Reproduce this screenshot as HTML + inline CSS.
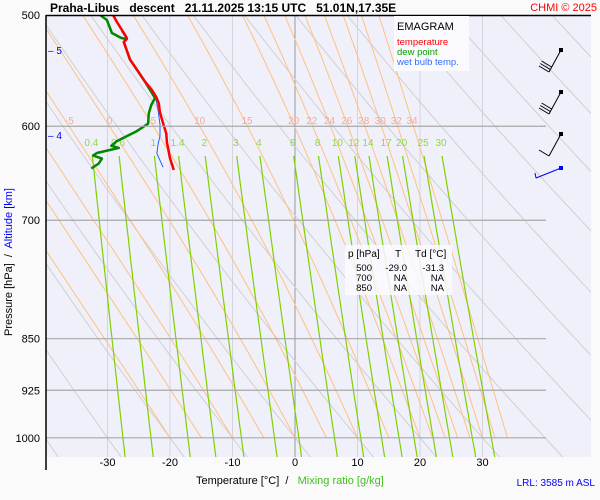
<!DOCTYPE html>
<html><head><meta charset="utf-8"><style>
body{margin:0;background:#fafafa;}
svg{display:block;font-family:"Liberation Sans",sans-serif;}
</style></head><body>
<svg id="c" width="600" height="500"></svg>
<script>
// sounding data (T in °C, p in hPa)
const tempP=[500,505.8,512.4,518.3,520,522.6,537.9,546.8,557.8,565.3,572.0,577.9,586.8,597.0,607.4,616.0,632.3,644.7];
const tempT=[-29.1,-28.5,-27.7,-27.0,-26.9,-27.4,-26.4,-25.3,-24.0,-22.9,-22.2,-21.8,-21.6,-21.1,-20.6,-20.5,-20.0,-19.4];
const dewP=[500,504.1,510.8,515,519.2,520,522.6,537.9,557.8,572.9,579.5,587.4,597.5,604.8,609.8,614.8,619.6,621.7,626.9,629.5,632.7,637.8,643.1];
const dewT=[-31.2,-30.1,-29.6,-29.3,-27.8,-27.0,-27.4,-26.4,-24.0,-22.4,-23.0,-23.4,-23.5,-25.3,-26.9,-28.5,-29.4,-28.2,-31.7,-32.3,-30.9,-31.4,-32.6];
const wbP=[513.2,516.6,519.2,522.6,537.9,557.8,572.0,584.6,598.5,609.8,617.8,627.6,641.7];
const wbT=[-27.8,-27.4,-27.0,-27.4,-26.4,-24.0,-22.3,-21.9,-21.6,-21.6,-21.9,-22.1,-21.1];
const tempTicks=[-30,-20,-10,0,10,20,30];
const pressTicks=[500,600,700,850,925,1000];
const altTicks=[5,4];const altY=[50,135];
const thetaW=[-20,-15,-10,-5,0,5,10,15,20,22,24,26,28,30,32,34];
const thetaWLabels=[-5,0,5,10,15,20,22,24,26,28,30,32,34];
const mixRatios=[0.4,0.6,1,1.4,2,3,4,6,8,10,12,14,17,20,25,30];
const dryTheta=[-40,-30,-20,-10,0,10,20,30,40,50,60,70,80,90,100,110,120];

const NS="http://www.w3.org/2000/svg";
const svg=document.getElementById('c');
const X=t=>295+6.25*t, Y=p=>15+610*Math.log(p/500);
function el(tag,attrs,parent){const e=document.createElementNS(NS,tag);for(const k in attrs)e.setAttribute(k,attrs[k]);(parent||svg).appendChild(e);return e;}
function txt(s,x,y,fill,size,anchor,parent){const e=el('text',{x:x,y:y,fill:fill,'font-size':size,'text-anchor':anchor||'middle'},parent);e.textContent=s;return e;}

el('rect',{x:46,y:15,width:545,height:442,fill:'#f0f0fb'});
const defs=el('defs',{});const cp=el('clipPath',{id:'clip'},defs);el('rect',{x:46,y:15,width:545,height:442},cp);
const g=el('g',{'clip-path':'url(#clip)'});


tempTicks.forEach(t=>{const l=el('line',{x1:X(t),x2:X(t),y1:15,y2:457,stroke:t===0?'#999':'#d4d4dc','stroke-width':1},g);
});
dryTheta.forEach(th=>{let pts=[];for(let p=500;p<=1040;p+=10){const T=(th+273.15)*Math.pow(p/1000,0.286)-273.15;pts.push(X(T).toFixed(1)+','+Y(p).toFixed(1));}
const l=el('polyline',{points:pts.join(' '),fill:'none',stroke:'#d0d0d0','stroke-width':1},g);
});
function moist(tw){let T=tw+273.15,res=[[1000,T]];for(let p=1000;p>500;p-=1){const es=6.112*Math.exp(17.67*(T-273.15)/(T-29.65));const rs=0.622*es/(p-es);
const Lv=2.5e6,Rd=287,cp=1005;const dTdp=(1/p)*(Rd*T+Lv*rs)/(cp+Lv*Lv*rs*0.622/(Rd*T*T));T-=dTdp;res.push([p-1,T]);}return res;}
thetaW.forEach(tw=>{const m=moist(tw);const pts=m.map(a=>X(a[1]-273.15).toFixed(1)+','+Y(a[0]).toFixed(1));
const l=el('polyline',{points:pts.join(' '),fill:'none',stroke:'#ffc080','stroke-width':1},g);

if(thetaWLabels.includes(tw)){const a=m.find(q=>q[0]===605);const t=txt(String(tw),X(a[1]-273.15)-3,124,'#f8a898',10,'middle',g);
}});
function tFromW(w,p){const e=w*p/(622+w);const L=Math.log(e/6.112);return 243.5*L/(17.67-L);}
mixRatios.forEach(w=>{const pts=[];for(let p=630;p<=1040;p+=10)pts.push(X(tFromW(w,p)).toFixed(1)+','+Y(p).toFixed(1));
const l=el('polyline',{points:pts.join(' '),fill:'none',stroke:'#80d000','stroke-width':1.2},g);

const t=txt(String(w),X(tFromW(w,630))-1,146,'#90d840',10,'middle',g);
});
pressTicks.forEach(p=>{if(p===500)return;const l=el('line',{x1:46,x2:546,y1:Y(p),y2:Y(p),stroke:'#a8a8a8','stroke-width':1.2});
});
el('line',{x1:46,x2:591,y1:15.5,y2:15.5,stroke:'#000','stroke-width':1.5});
el('line',{x1:46,x2:46,y1:15,y2:470,stroke:'#000','stroke-width':1.5});
pressTicks.forEach(p=>{const t=txt(String(p),40,Y(p)+4,'#000',11,'end');});
altTicks.forEach((a,i)=>{const t=txt('– '+a,48,altY[i]+4,'#00f',10,'start');});
tempTicks.forEach(tv=>{const t=txt(String(tv),X(tv),466,'#000',11);});

function series(P,T,color,w,name){const pts=P.map((p,i)=>X(T[i]).toFixed(1)+','+Y(p).toFixed(1));
const l=el('polyline',{points:pts.join(' '),fill:'none',stroke:color,'stroke-width':w,'stroke-linejoin':'round'},g);
}
series(wbP,wbT,'#2060ff',1,'wet-bulb-line');
series(dewP,dewT,'#008800',2.5,'dew-point-line');
series(tempP,tempT,'#ff0000',2.5,'temperature-line');

const lg=el('g',{});
el('rect',{x:394,y:16,width:75,height:55,fill:'#fafaff'},lg);
txt('EMAGRAM',397,30,'#000',11,'start',lg);
txt('temperature',397,45,'#ff0000',9.5,'start',lg);
txt('dew point',397,55,'#00a000',9.5,'start',lg);
txt('wet bulb temp.',397,65,'#3070ff',9.5,'start',lg);
const tb=el('g',{});
el('rect',{x:345,y:245,width:107,height:50,fill:'#fafaff','fill-opacity':0.85},tb);
txt('p [hPa]',348,257,'#000',10,'start',tb);txt('T',398,257,'#000',10,'middle',tb);txt('Td [°C]',415,257,'#000',10,'start',tb);
[['500','-29.0','-31.3'],['700','NA','NA'],['850','NA','NA']].forEach((r,i)=>{const y=271+i*10;
txt(r[0],372,y,'#000',9.5,'end',tb);txt(r[1],407,y,'#000',9.5,'end',tb);txt(r[2],444,y,'#000',9.5,'end',tb);});

const wb=el('g',{stroke:'#000','stroke-width':1,fill:'none'});
function barb(y0,n,color){el('line',{x1:561,y1:y0,x2:549,y2:y0+22,stroke:color},wb);el('rect',{x:559,y:y0-2,width:4,height:4,fill:color,stroke:'none'},wb);
for(let i=0;i<n;i++){el('line',{x1:549+i*1.3,y1:y0+22-i*2.5,x2:539+i*1.3,y2:y0+16-i*2.5,stroke:color},wb);}}
barb(50,3,'#000');barb(92,3,'#000');barb(134,1,'#000');
el('line',{x1:561,y1:168,x2:536,y2:178,stroke:'#00f'},wb);el('rect',{x:559,y:166,width:4,height:4,fill:'#00f',stroke:'none'},wb);
el('line',{x1:536,y1:178,x2:535,y2:173,stroke:'#00f'},wb);

const ti=txt('Praha-Libus   descent   21.11.2025 13:15 UTC   51.01N,17.35E',50,12,'#000',12,'start');ti.setAttribute('font-weight','bold');ti.style.whiteSpace='pre';

const cr=txt('CHMI © 2025',597,11,'#ff0000',11,'end');
const xt=el('text',{x:196,y:484,'font-size':11,fill:'#000'});
xt.innerHTML='Temperature [°C]  / <tspan fill="#40c020">  Mixing ratio [g/kg]</tspan>';xt.style.whiteSpace='pre';
const lrl=txt('LRL: 3585 m ASL',595,486,'#0000ff',10,'end');
const yt=el('text',{transform:'translate(12,262) rotate(-90)','font-size':11,'text-anchor':'middle',fill:'#000'});

yt.innerHTML='Pressure [hPa]  /  <tspan fill="#0000ff">Altitude [km]</tspan>';yt.style.whiteSpace='pre';
</script>
</body></html>
